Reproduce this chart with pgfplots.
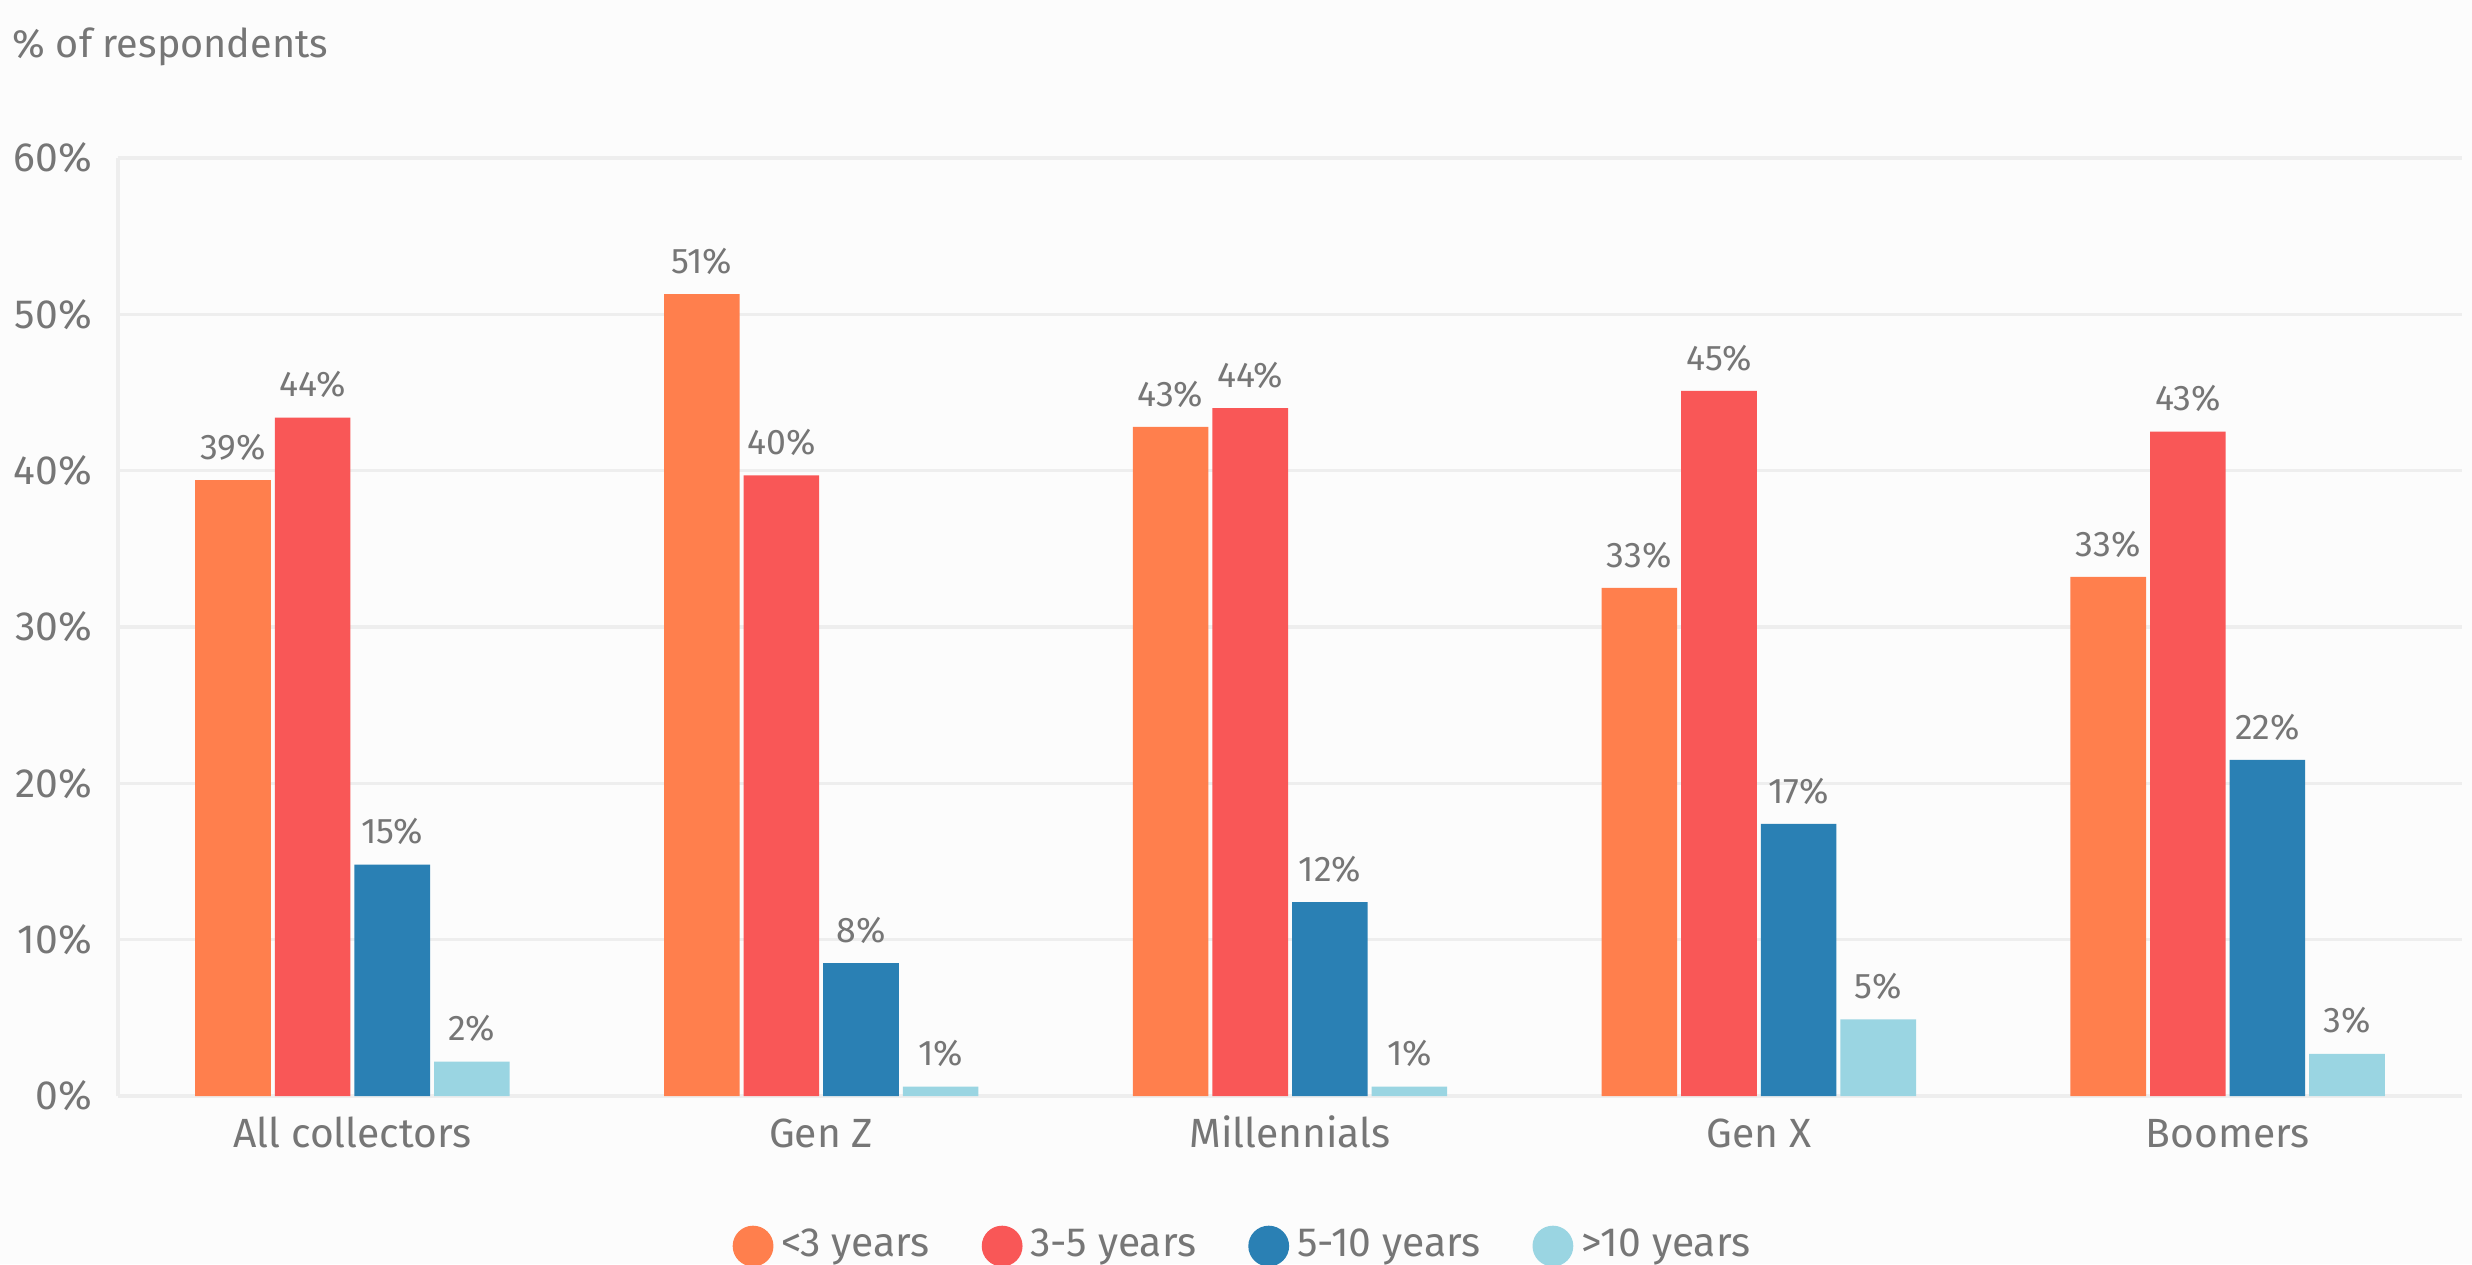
\documentclass[border=0pt]{standalone}
\usepackage{fontspec}
\setmainfont{Fira Sans}
\usepackage{pgfplots}
\pgfplotsset{compat=1.18}
\definecolor{cA}{HTML}{FF7F4D}
\definecolor{cB}{HTML}{F95757}
\definecolor{cC}{HTML}{2A80B4}
\definecolor{cD}{HTML}{9AD5E2}
\definecolor{txt}{HTML}{767676}
\definecolor{gridc}{HTML}{EEEEEE}
\definecolor{bg}{HTML}{FCFCFC}
\begin{document}
\begin{tikzpicture}
\fill[bg] (-29.5pt,-42pt) rectangle (588.5pt,274pt);
\useasboundingbox (-29.5pt,-42pt) rectangle (588.5pt,274pt);
\begin{axis}[
  at={(0pt,0pt)}, anchor=south west,
  scale only axis, width=586pt, height=234.5pt,
  xmin=-0.5, xmax=4.5, ymin=0, ymax=60,
  ybar=1pt, bar width=18.9pt,
  axis x line*=bottom, axis y line*=left,
  axis line style={gridc, line width=0.8pt},
  ytick={0,10,...,60},
  yticklabel={\pgfmathprintnumber{\tick}\%},
  ymajorgrids, grid style={gridc, line width=0.8pt},
  major tick length=0pt,
  xtick={0,...,4},
  xticklabels={All collectors, Gen Z, Millennials, Gen X, Boomers},
  tick label style={font=\fontsize{10.2}{12}\selectfont, text=txt},
  yticklabel style={xshift=-3pt},
  xticklabel style={text height=7.5pt, text depth=2pt, yshift=-1.8pt},
  /pgf/number format/assume math mode=true,
  point meta=explicit symbolic,
  nodes near coords={\pgfplotspointmeta\%},
  nodes near coords style={font=\fontsize{8.9}{10}\selectfont, text=txt, yshift=1.4pt},
  legend columns=4,
  legend style={at={(0.481,-0.16)}, anchor=center, draw=none, fill=none,
    font=\fontsize{10.2}{12}\selectfont, text=txt,
    /tikz/every even column/.append style={column sep=11pt}},
  legend image code/.code={\fill[#1, draw=none] (0.2cm,0pt) circle (5.1pt);},
]
\addplot[fill=cA, draw=none] coordinates {(0,39.4) [39] (1,51.3) [51] (2,42.8) [43] (3,32.5) [33] (4,33.2) [33]};
\addplot[fill=cB, draw=none] coordinates {(0,43.4) [44] (1,39.7) [40] (2,44.0) [44] (3,45.1) [45] (4,42.5) [43]};
\addplot[fill=cC, draw=none] coordinates {(0,14.8) [15] (1,8.5) [8] (2,12.4) [12] (3,17.4) [17] (4,21.5) [22]};
\addplot[fill=cD, draw=none] coordinates {(0,2.2) [2] (1,0.6) [1] (2,0.6) [1] (3,4.9) [5] (4,2.7) [3]};
\legend{<3 years, 3-5 years, 5-10 years, >10 years}
\end{axis}
\node[anchor=west, text=txt, font=\fontsize{9.9}{12}\selectfont, inner sep=0pt] at (-26.5pt,262.2pt) {\% of respondents};
\end{tikzpicture}
\end{document}
